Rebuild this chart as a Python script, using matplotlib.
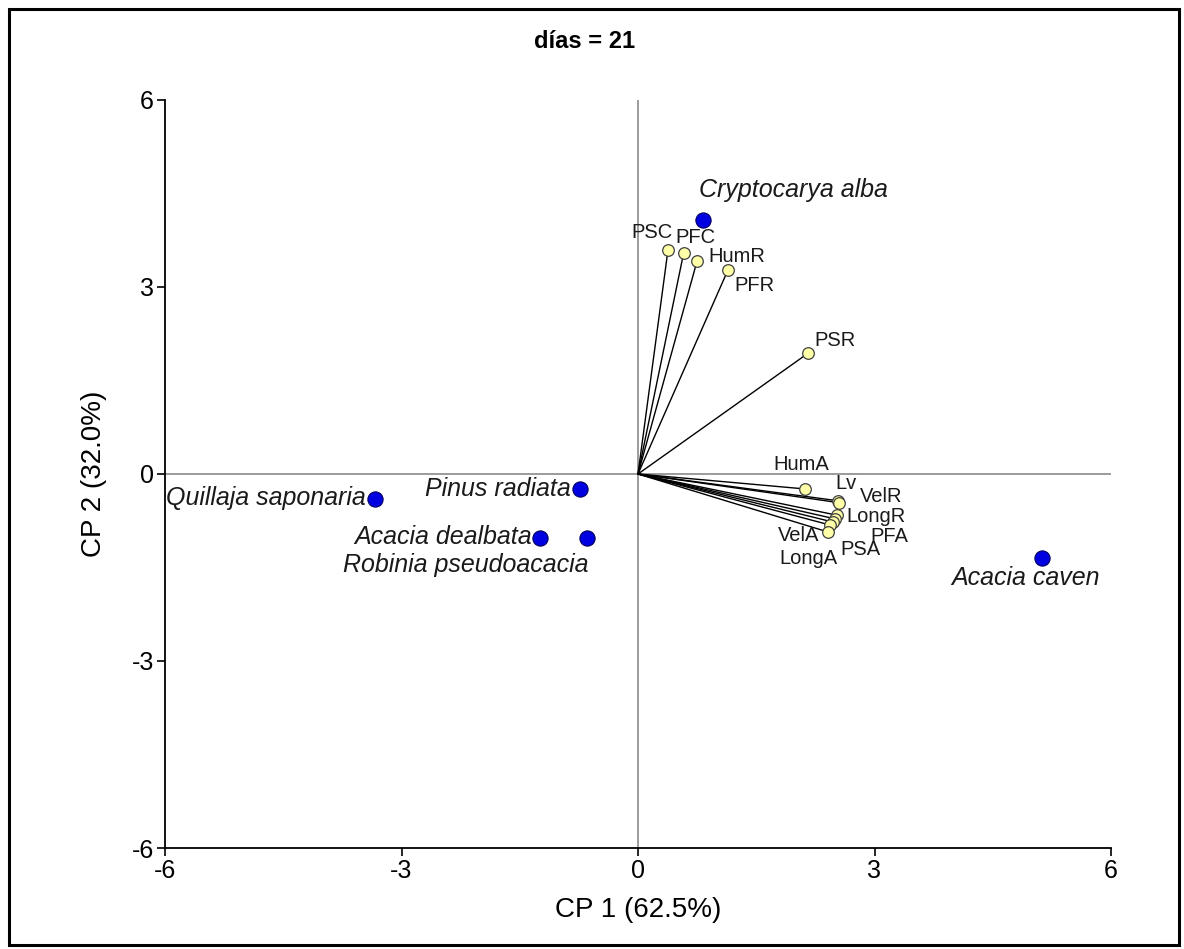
import matplotlib
matplotlib.use("Agg")
import matplotlib.pyplot as plt
from matplotlib.patches import Rectangle

plt.rcParams['font.family'] = ['Liberation Sans', 'DejaVu Sans']

# Species scores
species = ["Cryptocarya alba", "Quillaja saponaria", "Pinus radiata",
           "Acacia dealbata", "Robinia pseudoacacia", "Acacia caven"]
sp_x = [0.82, -3.34, -0.74, -1.24, -0.65, 5.12]
sp_y = [4.07, -0.40, -0.24, -1.03, -1.03, -1.35]

# Variable loadings (vector ends)
variables = ["PSC", "PFC", "HumR", "PFR", "PSR", "HumA", "Lv", "VelR",
             "LongR", "PFA", "PSA", "LongA", "VelA"]
var_x = [0.38, 0.58, 0.75, 1.14, 2.16, 2.12, 2.54, 2.55, 2.52, 2.50, 2.47, 2.44, 2.41]
var_y = [3.59, 3.55, 3.42, 3.27, 1.94, -0.24, -0.43, -0.46, -0.66, -0.72, -0.77, -0.82, -0.93]

ticks = [-6, -3, 0, 3, 6]
title = "días = 21"
xlabel = "CP 1 (62.5%)"
ylabel = "CP 2 (32.0%)"

# label offsets in pixels (dx, dy, ha)
sp_off = {
    "Cryptocarya alba": (91, 30, "center"),
    "Quillaja saponaria": (-9, 1, "right"),
    "Pinus radiata": (-9, 0, "right"),
    "Acacia dealbata": (-8, 1, "right"),
    "Robinia pseudoacacia": (2, -27, "right"),
    "Acacia caven": (-16, -20, "center"),
}
var_off = {
    "PSC": (-16, 18), "PFC": (12, 15), "HumR": (40, 4), "PFR": (27, -15),
    "PSR": (27, 13), "HumA": (-4, 24), "Lv": (8, 17), "VelR": (42, 6),
    "LongR": (39, -1), "PFA": (54, -18), "PSA": (28, -28), "VelA": (-29, -4),
    "LongA": (-22, -33),
}

fig = plt.figure(figsize=(11.84, 9.49), dpi=100)
ax = fig.add_axes([165/1184, 1-848/949, (1111-165)/1184, (848-100)/949])
ax.set_xlim(-6, 6)
ax.set_ylim(-6, 6)

ax.axhline(0, color="#808080", lw=1.1, zorder=1)
ax.axvline(0, color="#808080", lw=1.1, zorder=1)

for x, y in zip(var_x, var_y):
    ax.plot([0, x], [0, y], color="black", lw=1.0, zorder=2)
ax.scatter(var_x, var_y, s=70, marker="o", facecolor="#FFFFA8",
           edgecolor="#404040", linewidth=0.9, zorder=4)
for name, x, y in zip(variables, var_x, var_y):
    dx, dy = var_off[name]
    ax.annotate(name, (x, y), xytext=(dx, dy), textcoords="offset pixels",
                ha="center", va="center", fontsize=14.5, color="#1a1a1a", zorder=5)

ax.scatter(sp_x, sp_y, s=120, marker="o", facecolor="#0000E0",
           edgecolor="#000060", linewidth=0.8, zorder=5)
for name, x, y in zip(species, sp_x, sp_y):
    dx, dy, ha = sp_off[name]
    ax.annotate(name, (x, y), xytext=(dx, dy), textcoords="offset pixels",
                ha=ha, va="center", fontsize=18, style="italic",
                color="#1a1a1a", zorder=6)

for s in ["top", "right"]:
    ax.spines[s].set_visible(False)
for s in ["left", "bottom"]:
    ax.spines[s].set_linewidth(1.3)
ax.set_xticks(ticks)
ax.set_yticks(ticks)
ax.set_xticklabels([str(t) for t in ticks])
ax.set_yticklabels([str(t) for t in ticks])
ax.tick_params(direction="out", length=6, width=1.2, labelsize=18, pad=2)
ax.set_xlabel(xlabel, fontsize=20, labelpad=10)
ax.set_ylabel(ylabel, fontsize=20, labelpad=18)

fig.text(585/1184, 1-42/949, title, ha="center", va="center",
         fontsize=17, fontweight="bold")

fig.patches.append(Rectangle((9/1184, 4/949), 1170/1184, 936/949,
                             transform=fig.transFigure, fill=False,
                             edgecolor="black", linewidth=2.2))

fig.savefig("out.png", dpi=100)
